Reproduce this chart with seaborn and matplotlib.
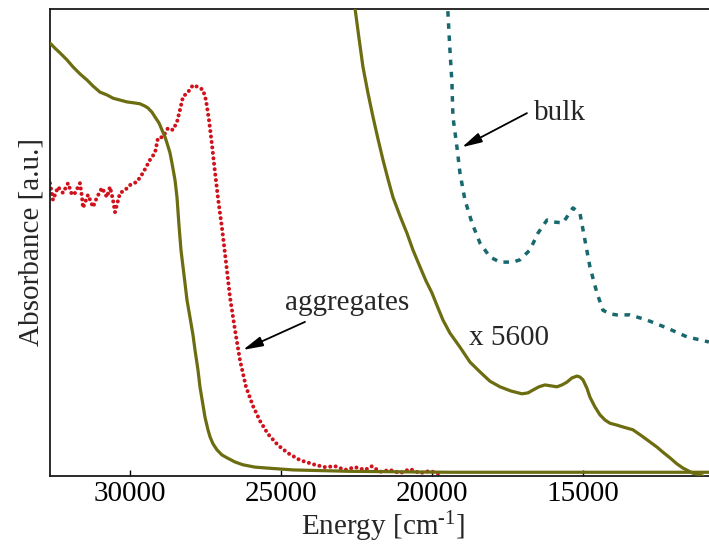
import numpy as np
import pandas as pd
import matplotlib
matplotlib.use("Agg")
import matplotlib.pyplot as plt
import seaborn as sns

# ---------------- data ----------------
# solution spectrum (solid olive)
sol_E = [32650, 32484, 32319, 32087, 31888, 31657, 31425, 31226, 30995, 30763,
         30564, 30332, 30101, 29869, 29670, 29505, 29405, 29273, 29174, 29041,
         28942, 28842, 28776, 28677, 28611, 28511, 28445, 28379, 28313, 28246,
         28180, 28114, 28015, 27915, 27849, 27750, 27684, 27584, 27518, 27419,
         27352, 27253, 27121, 26955, 26790, 26525, 26260, 25863, 25465, 24604,
         22717, 19406, 16095, 12784, 10830]
sol_A = [0.927, 0.916, 0.906, 0.891, 0.876, 0.861, 0.848, 0.835, 0.822, 0.816,
         0.809, 0.805, 0.801, 0.799, 0.797, 0.792, 0.788, 0.779, 0.769, 0.756,
         0.741, 0.726, 0.713, 0.692, 0.670, 0.634, 0.597, 0.537, 0.484, 0.448,
         0.413, 0.377, 0.340, 0.302, 0.270, 0.227, 0.191, 0.152, 0.126, 0.099,
         0.084, 0.069, 0.056, 0.045, 0.039, 0.030, 0.024, 0.019, 0.017, 0.013,
         0.010, 0.008, 0.008, 0.008, 0.008]

# solution spectrum multiplied by 5600 (solid olive)
sol5600_E = [22618, 22551, 22419, 22287, 22121, 21955, 21790, 21624, 21459, 21293,
             21061, 20830, 20631, 20399, 20201, 20002, 19803, 19638, 19406, 19075,
             18744, 18413, 18082, 17750, 17386, 17022, 16823, 16658, 16459, 16260,
             16062, 15863, 15698, 15532, 15367, 15201, 15102, 15002, 14870, 14771,
             14605, 14439, 14274, 14108, 13877, 13678, 13347, 13016, 12784, 12552,
             12354, 12122, 11890, 11691, 11360, 11029]
sol5600_A = [1.030, 1.002, 0.938, 0.876, 0.820, 0.769, 0.722, 0.677, 0.636, 0.597,
             0.557, 0.520, 0.484, 0.448, 0.418, 0.392, 0.360, 0.334, 0.306, 0.276,
             0.244, 0.223, 0.203, 0.191, 0.182, 0.176, 0.178, 0.184, 0.191, 0.195,
             0.193, 0.191, 0.195, 0.201, 0.210, 0.214, 0.212, 0.206, 0.188, 0.169,
             0.148, 0.131, 0.120, 0.113, 0.109, 0.105, 0.099, 0.084, 0.073, 0.062,
             0.051, 0.039, 0.026, 0.017, 0.006, 0.000]

# aggregates (red dotted)
agg_E = [32650, 32551, 32385, 32220, 32054, 31922, 31822, 31657, 31590, 31557,
         31392, 31226, 31094, 30928, 30763, 30664, 30564, 30498, 30332, 30167,
         30001, 29770, 29571, 29339, 29174, 29074, 28909, 28743, 28578, 28445,
         28346, 28246, 28081, 27915, 27750, 27584, 27485, 27385, 27286, 27187,
         27087, 26955, 26822, 26690, 26525, 26359, 26160, 25929, 25697, 25432,
         25101, 24770, 24372, 23875, 23544, 23213, 22882, 22551, 22220, 21988,
         21723, 21392, 21061, 20730, 20399, 20068, 19737]
agg_A = [0.627, 0.591, 0.619, 0.606, 0.627, 0.602, 0.606, 0.627, 0.597, 0.574,
         0.602, 0.576, 0.597, 0.617, 0.597, 0.619, 0.591, 0.565, 0.606, 0.612,
         0.623, 0.630, 0.649, 0.677, 0.692, 0.724, 0.726, 0.745, 0.741, 0.758,
         0.784, 0.812, 0.822, 0.837, 0.833, 0.827, 0.805, 0.762, 0.709, 0.651,
         0.595, 0.531, 0.458, 0.383, 0.313, 0.248, 0.191, 0.150, 0.118, 0.090,
         0.066, 0.049, 0.034, 0.024, 0.019, 0.021, 0.013, 0.019, 0.013, 0.021,
         0.009, 0.013, 0.006, 0.015, 0.006, 0.011, 0.004]

# bulk (teal dashed)
bulk_E = [19505, 19472, 19406, 19340, 19307, 19174, 19075, 18909, 18677, 18413,
          18082, 17750, 17320, 17088, 16757, 16492, 16194, 15995, 15664, 15333,
          15102, 14936, 14771, 14539, 14340, 14108, 13877, 13446, 12884, 12221,
          11559, 10830]
bulk_A = [1.041, 0.991, 0.912, 0.842, 0.769, 0.704, 0.649, 0.591, 0.542, 0.499,
          0.469, 0.458, 0.458, 0.463, 0.484, 0.520, 0.548, 0.544, 0.542, 0.574,
          0.563, 0.505, 0.448, 0.392, 0.355, 0.347, 0.345, 0.345, 0.334, 0.317,
          0.298, 0.287]

x_ticks = [30000, 25000, 20000, 15000]
x_tick_labels = ["30000", "25000", "20000", "15000"]

# ---------------- style ----------------
sns.set_theme(style="white")
plt.rcParams["font.family"] = ["Liberation Serif", "DejaVu Serif"]
plt.rcParams["mathtext.fontset"] = "custom"
plt.rcParams["mathtext.rm"] = "Liberation Serif"
plt.rcParams["mathtext.it"] = "Liberation Serif:italic"
plt.rcParams["mathtext.bf"] = "Liberation Serif:bold"

OLIVE = "#6c6c10"
RED = "#d0121c"
TEAL = "#17696e"
FS = 21

fig = plt.figure(figsize=(7.09, 5.56), dpi=100)
ax = fig.add_axes([50 / 709, 80 / 556, 666 / 709, 467 / 556])

d_sol = pd.DataFrame({"E": sol_E, "A": sol_A})
d_sol2 = pd.DataFrame({"E": sol5600_E, "A": sol5600_A})
d_agg = pd.DataFrame({"E": agg_E, "A": agg_A})
d_bulk = pd.DataFrame({"E": bulk_E, "A": bulk_A})

sns.lineplot(data=d_agg, x="E", y="A", ax=ax, sort=False, estimator=None,
             color=RED, lw=2.9, linestyle=(0, (0.01, 1.35)), dash_capstyle="round",
             solid_joinstyle="round", zorder=2)
sns.lineplot(data=d_sol, x="E", y="A", ax=ax, sort=False, estimator=None,
             color=OLIVE, lw=2.3, solid_joinstyle="round", zorder=3)
sns.lineplot(data=d_sol2, x="E", y="A", ax=ax, sort=False, estimator=None,
             color=OLIVE, lw=2.3, solid_joinstyle="round", zorder=3)
sns.lineplot(data=d_bulk, x="E", y="A", ax=ax, sort=False, estimator=None,
             color=TEAL, lw=2.5, linestyle=(0, (1.6, 1.9)), dash_capstyle="butt",
             zorder=3)

ax.set_xlim(32650, 10596)
ax.set_ylim(0, 1)

ax.set_xticks(x_ticks)
ax.set_xticklabels(x_tick_labels)
ax.set_yticks([])
ax.tick_params(axis="x", direction="in", length=4, width=1.0, pad=3.5,
               labelsize=FS, colors="black", bottom=True, top=False)

for s in ["left", "bottom", "top", "right"]:
    ax.spines[s].set_color("#1a1a1a")
    ax.spines[s].set_linewidth(1.3)

ax.set_xlabel("Energy [cm$^{\\text{-}1}$]", fontsize=FS, labelpad=2)
ax.set_ylabel("Absorbance [a.u.]", fontsize=FS, labelpad=4)

# annotations
arrow = dict(arrowstyle="-|>,head_length=0.6,head_width=0.15",
             color="black", lw=1.3, mutation_scale=20, shrinkA=0, shrinkB=0)
ax.text(22816, 0.370, "aggregates", fontsize=FS, ha="center", va="center")
ax.annotate("", xy=(26260, 0.270), xytext=(24207, 0.330), arrowprops=arrow)
ax.text(17453, 0.296, "x 5600", fontsize=FS, ha="center", va="center")
ax.text(15764, 0.777, "bulk", fontsize=FS, ha="center", va="center")
ax.annotate("", xy=(19008, 0.704), xytext=(16857, 0.777), arrowprops=arrow)

fig.savefig("out.png", dpi=100)
